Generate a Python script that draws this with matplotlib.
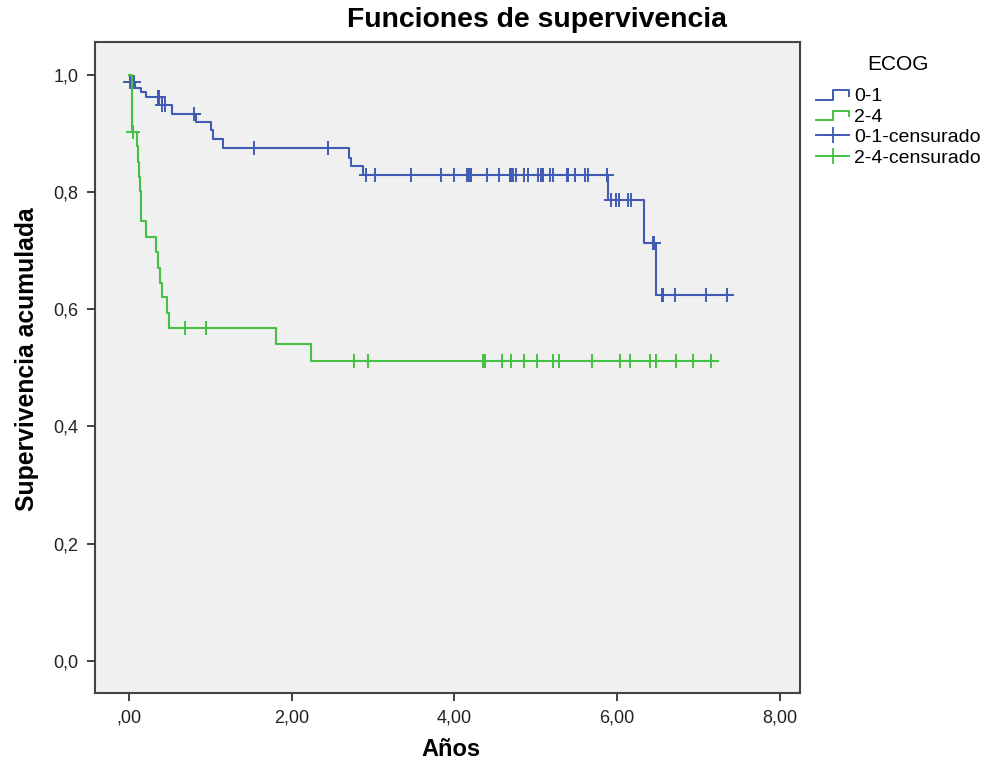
import numpy as np
import matplotlib
matplotlib.use("Agg")
import matplotlib.pyplot as plt
from matplotlib.lines import Line2D
from matplotlib.legend_handler import HandlerBase

plt.rcParams['font.family'] = ['Liberation Sans', 'DejaVu Sans']

# Kaplan-Meier steps (time in years, survival after the step)
blue_times = [0.0, 0.005, 0.07, 0.15, 0.21, 0.40, 0.53, 0.82, 1.00, 1.03, 1.15,
              2.70, 2.73, 2.87, 5.89, 6.33, 6.48]
blue_surv = [1.0, 0.988, 0.977, 0.970, 0.962, 0.949, 0.934, 0.919, 0.906, 0.890, 0.875,
             0.858, 0.844, 0.829, 0.786, 0.713, 0.625]
blue_censored = [0.01, 0.065, 0.35, 0.37, 0.40, 0.44, 0.80, 1.54, 2.45, 2.91, 3.02,
                 3.46, 3.84, 4.00, 4.15, 4.18, 4.20, 4.40, 4.55, 4.68, 4.70, 4.72,
                 4.76, 4.86, 4.90, 5.03, 5.06, 5.09, 5.17, 5.21, 5.38, 5.40, 5.48,
                 5.60, 5.64, 5.88, 5.93, 5.99, 6.02, 6.14, 6.17, 6.44, 6.46, 6.55,
                 6.57, 6.71, 7.09, 7.35]
blue_end = 7.41

green_times = [0.0, 0.03, 0.10, 0.11, 0.12, 0.13, 0.14, 0.15, 0.21, 0.335, 0.36,
               0.38, 0.40, 0.46, 0.49, 1.80, 2.24]
green_surv = [1.0, 0.903, 0.878, 0.852, 0.826, 0.801, 0.774, 0.750, 0.723, 0.697, 0.670,
              0.645, 0.621, 0.594, 0.568, 0.540, 0.511]
green_censored = [0.05, 0.69, 0.94, 2.77, 2.94, 4.35, 4.37, 4.58, 4.69, 4.86, 5.02,
                  5.21, 5.29, 5.69, 6.04, 6.16, 6.41, 6.48, 6.73, 6.93, 7.15]
green_end = 7.24

group_labels = ['0-1', '2-4']
censor_labels = ['0-1-censurado', '2-4-censurado']
x_ticks = [0, 2, 4, 6, 8]
x_tick_labels = [',00', '2,00', '4,00', '6,00', '8,00']
y_ticks = [0.0, 0.2, 0.4, 0.6, 0.8, 1.0]
y_tick_labels = ['0,0', '0,2', '0,4', '0,6', '0,8', '1,0']

BLUE = '#3f5bb3'
GREEN = '#45c045'


class StepHandler(HandlerBase):
    """legend handle drawn as a small step, like SPSS does"""
    def create_artists(self, legend, orig_handle, xdescent, ydescent,
                       width, height, fontsize, trans):
        x0 = -xdescent
        y0 = -ydescent
        xs = [x0, x0 + 0.5 * width, x0 + 0.5 * width, x0 + width, x0 + width]
        ys = [y0 + 0.1 * height, y0 + 0.1 * height, y0 + 0.8 * height,
              y0 + 0.8 * height, y0 + 0.4 * height]
        line = Line2D(xs, ys, color=orig_handle.get_color(), lw=1.4, transform=trans)
        return [line]


def surv_at(times, surv, t):
    idx = np.searchsorted(times, t, side='right') - 1
    return np.array(surv)[idx]


def draw_group(ax, times, surv, censored, end, color):
    xs = list(times) + [end]
    ys = list(surv) + [surv[-1]]
    step_line, = ax.step(xs, ys, where='post', color=color, lw=1.5)
    cy = surv_at(times, surv, censored)
    ax.plot(censored, cy, linestyle='none', marker='+', ms=10, mew=1.4, color=color)
    return step_line


def main():
    fig = plt.figure(figsize=(9.88, 7.71), dpi=100)
    ax = fig.add_axes([0.0962, 0.1012, 0.7135, 0.8443])
    ax.set_facecolor('#f0f0f0')

    blue_line = draw_group(ax, blue_times, blue_surv, blue_censored, blue_end, BLUE)
    green_line = draw_group(ax, green_times, green_surv, green_censored, green_end, GREEN)

    ax.set_xlim(-0.42, 8.25)
    ax.set_ylim(-0.055, 1.056)
    ax.set_xticks(x_ticks)
    ax.set_xticklabels(x_tick_labels)
    ax.set_yticks(y_ticks)
    ax.set_yticklabels(y_tick_labels)
    ax.tick_params(direction='out', length=6, width=1.2, colors='#222222',
                   labelsize=13, pad=6)
    for sp in ax.spines.values():
        sp.set_color('#444444')
        sp.set_linewidth(1.5)

    ax.set_xlabel('Años', fontsize=17, fontweight='bold')
    ax.set_ylabel('Supervivencia acumulada', fontsize=17.8, fontweight='bold')
    ax.xaxis.set_label_coords(0.505, -0.069)
    ax.yaxis.set_label_coords(-0.079, 0.513)
    fig.text(537 / 988, 1 - 20 / 771, 'Funciones de supervivencia', fontsize=20.4,
             fontweight='bold', ha='center', va='center')

    handles = [blue_line, green_line,
               Line2D([], [], color=BLUE, marker='+', ms=12, mew=1.3, lw=1.4),
               Line2D([], [], color=GREEN, marker='+', ms=12, mew=1.3, lw=1.4)]
    leg = fig.legend(handles, group_labels + censor_labels, title='ECOG',
                     loc='upper left', bbox_to_anchor=(0.826, 0.929), frameon=False,
                     fontsize=14, title_fontsize=15, handlelength=1.7,
                     handletextpad=0.25, labelspacing=0.15, borderpad=0,
                     borderaxespad=0,
                     handler_map={blue_line: StepHandler(), green_line: StepHandler()})
    leg._legend_box.sep = 10

    fig.savefig('out.png', dpi=100)


main()
